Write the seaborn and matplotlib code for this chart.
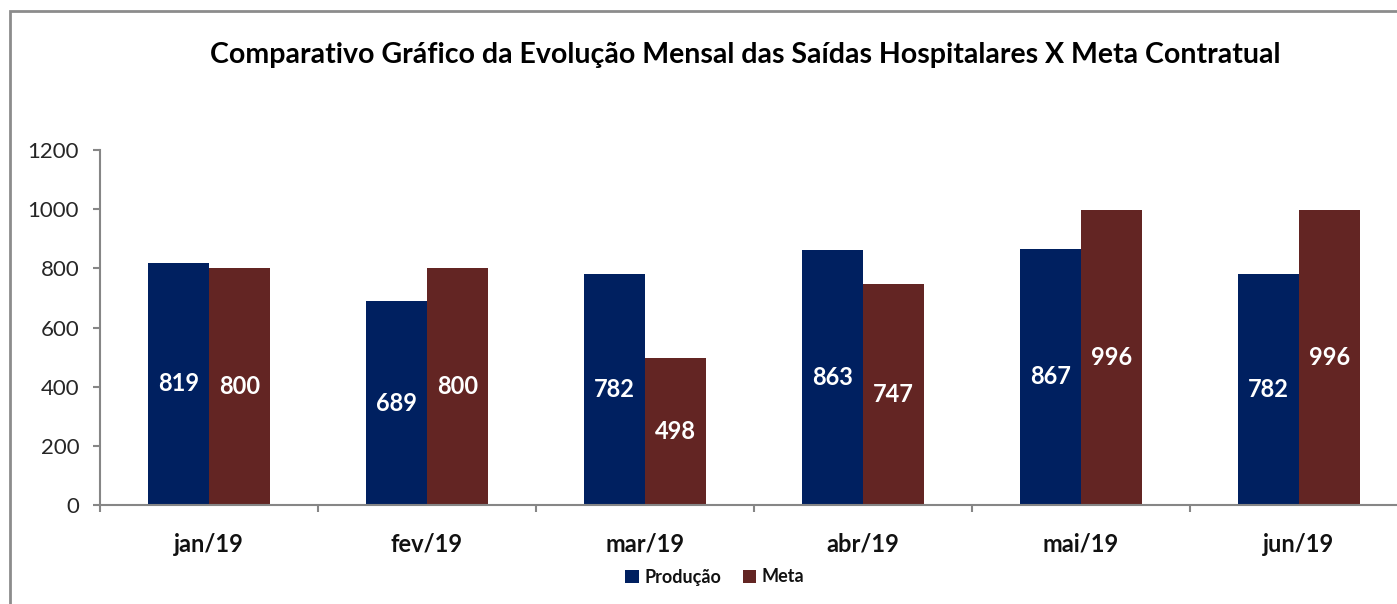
import pandas as pd
import matplotlib.pyplot as plt
import seaborn as sns
from matplotlib.patches import Rectangle
from matplotlib.ticker import FixedLocator

# Data
meses = ['jan/19', 'fev/19', 'mar/19', 'abr/19', 'mai/19', 'jun/19']
producao = [819, 689, 782, 863, 867, 782]
meta = [800, 800, 498, 747, 996, 996]
series = ['Produção', 'Meta']
cores = ['#002060', '#632523']

df = pd.DataFrame({
    'Mês': meses * 2,
    'Valor': producao + meta,
    'Série': [series[0]] * len(meses) + [series[1]] * len(meses),
})

sns.set_style('white')
plt.rcParams['font.family'] = ['Lato', 'DejaVu Sans']
cinza = '#868686'

fig = plt.figure(figsize=(13.97, 6.04), dpi=100)
ax = fig.add_axes([100 / 1397, 1 - 505 / 604, 1308 / 1397, 355 / 604])

sns.barplot(data=df, x='Mês', y='Valor', hue='Série', palette=cores,
            width=0.56, saturation=1, linewidth=0, ax=ax, legend=True)

for cont in ax.containers:
    ax.bar_label(cont, label_type='center', color='white',
                 fontweight='bold', fontsize=17)

ax.set_ylim(0, 1200)
ax.set_yticks(range(0, 1201, 200))
ax.set_xlim(-0.5, len(meses) - 0.5)
ax.set_xlabel('')
ax.set_ylabel('')

for s in ['top', 'right']:
    ax.spines[s].set_visible(False)
for s in ['left', 'bottom']:
    ax.spines[s].set_color(cinza)
    ax.spines[s].set_linewidth(1.5)

ax.tick_params(axis='y', which='major', left=True, direction='out', length=5,
               width=1.5, color=cinza, labelsize=16, pad=10, labelcolor='#262626')
ax.tick_params(axis='x', which='major', bottom=True, length=0, pad=20,
               labelsize=17, labelcolor='#111111')
for lab in ax.get_xticklabels():
    lab.set_fontweight('bold')
ax.xaxis.set_minor_locator(FixedLocator([i - 0.5 for i in range(len(meses) + 1)]))
ax.tick_params(axis='x', which='minor', bottom=True, direction='out', length=5,
               width=1.5, color=cinza)

handles, labels = ax.get_legend_handles_labels()
ax.get_legend().remove()
leg = fig.legend(handles, labels, loc='center', bbox_to_anchor=(715 / 1397, 1 - 577 / 604),
                 ncol=2, frameon=False, fontsize=13,
                 handlelength=0.75, handleheight=0.75, handletextpad=0.3, columnspacing=1.2)
for t in leg.get_texts():
    t.set_fontweight('bold')
    t.set_color('#111111')

fig.text(745 / 1397, 1 - 55 / 604,
         'Comparativo Gráfico da Evolução Mensal das Saídas Hospitalares X Meta Contratual',
         ha='center', va='center', fontsize=20.5, fontweight='bold', color='black')

# gray frame around the chart area (partly outside the image, like the reference)
fig.add_artist(Rectangle((10 / 1397, -0.1), 1.2, 1 - 11 / 604 + 0.1,
                         transform=fig.transFigure, fill=False,
                         edgecolor='#8c8c8c', linewidth=2))

fig.savefig('out.png', dpi=100)
